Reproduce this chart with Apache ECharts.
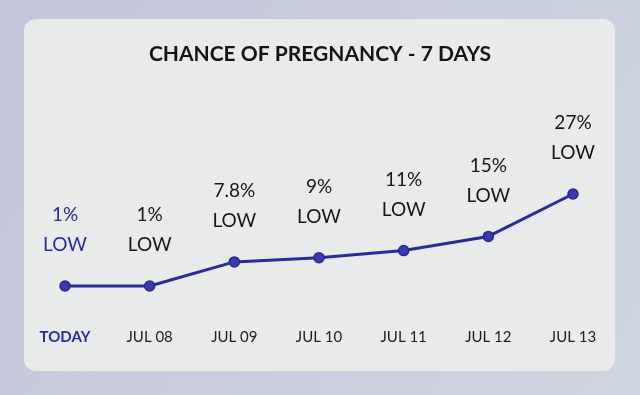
<!DOCTYPE html>
<html>
<head>
<meta charset="utf-8">
<script src="https://cdn.jsdelivr.net/npm/echarts@6/dist/echarts.min.js"></script>
<style>
html,body{margin:0;padding:0;}
#chart{width:640px;height:395px;}
</style>
</head>
<body>
<div id="chart"></div>
<script>
var categories = ['TODAY', 'JUL 08', 'JUL 09', 'JUL 10', 'JUL 11', 'JUL 12', 'JUL 13'];
var values = [1, 1, 7.8, 9, 11, 15, 27];
var valueLabels = ['1%', '1%', '7.8%', '9%', '11%', '15%', '27%'];
var levels = ['LOW', 'LOW', 'LOW', 'LOW', 'LOW', 'LOW', 'LOW'];
var titleText = 'CHANCE OF PREGNANCY - 7 DAYS';

var BLUE = '#2b2b98';
var chart = echarts.init(document.getElementById('chart'), null, {renderer: 'canvas'});

var seriesData = values.map(function (v, i) {
  var item = {value: v};
  if (i === 0) {
    item.label = {
      rich: {
        p: {color: BLUE},
        l: {color: BLUE}
      }
    };
  }
  return item;
});

var option = {
  animation: false,
  backgroundColor: 'transparent',
  graphic: [
    {
      type: 'rect', z: -10, silent: true,
      shape: {x: 0, y: 0, width: 640, height: 395},
      style: {
        fill: new echarts.graphic.LinearGradient(0, 0, 1, 1, [
          {offset: 0, color: '#c3c5dc'},
          {offset: 1, color: '#cfd6e1'}
        ])
      }
    },
    {
      type: 'rect', z: -9, silent: true,
      shape: {x: 24, y: 19, width: 591, height: 352, r: 12},
      style: {fill: '#e9eaea'}
    }
  ],
  title: {
    text: titleText,
    left: 'center',
    top: 39,
    textStyle: {
      fontFamily: 'Lato',
      fontWeight: 'bold',
      fontSize: 21,
      color: '#141414'
    }
  },
  grid: {left: 65, right: 67, top: 148, bottom: 105.5},
  xAxis: {
    type: 'category',
    data: categories,
    boundaryGap: false,
    axisLine: {show: false},
    axisTick: {show: false},
    splitLine: {show: false},
    axisLabel: {
      interval: 0,
      hideOverlap: false,
      margin: 40,
      fontFamily: 'Lato',
      fontSize: 15,
      color: '#1e1e1e',
      formatter: function (val, idx) {
        return idx === 0 ? '{t|' + val + '}' : val;
      },
      rich: {
        t: {fontFamily: 'Lato', fontSize: 15, fontWeight: 'bold', color: BLUE}
      }
    }
  },
  yAxis: {
    type: 'value',
    min: 0,
    max: 40,
    show: false,
    splitLine: {show: false}
  },
  series: [{
    type: 'line',
    data: seriesData,
    symbol: 'circle',
    symbolSize: 10,
    lineStyle: {color: BLUE, width: 3},
    itemStyle: {color: '#3b3bab', borderColor: '#27278e', borderWidth: 1.5},
    label: {
      show: true,
      position: 'top',
      distance: 20,
      formatter: function (p) {
        return '{p|' + valueLabels[p.dataIndex] + '}\n{l|' + levels[p.dataIndex] + '}';
      },
      rich: {
        p: {fontFamily: 'Lato', fontSize: 19, color: '#161616', lineHeight: 30, align: 'center'},
        l: {fontFamily: 'Lato', fontSize: 19, color: '#161616', lineHeight: 30, align: 'center'}
      }
    }
  }]
};
chart.setOption(option);
</script>
</body>
</html>
